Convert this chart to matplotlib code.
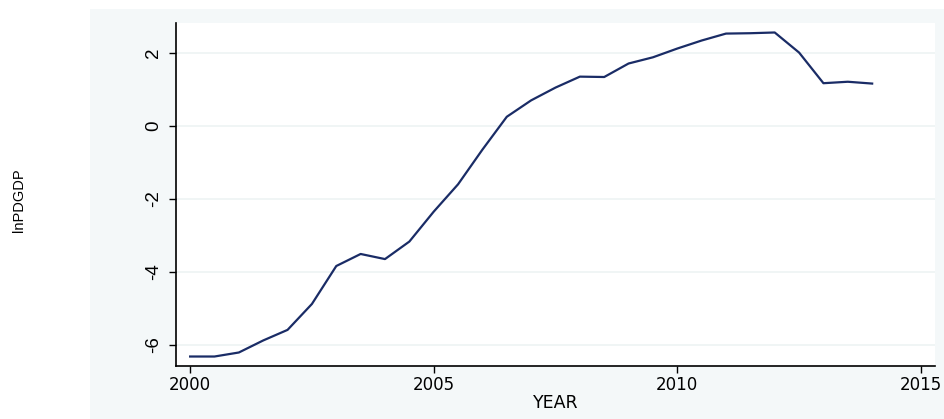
import matplotlib
matplotlib.use('Agg')
import matplotlib.pyplot as plt
from matplotlib.patches import Rectangle

plt.rcParams['font.family'] = ['Liberation Sans', 'DejaVu Sans']

# lnPDGDP by half-year
year = [2000, 2000.5, 2001, 2001.5, 2002, 2002.5, 2003, 2003.5, 2004, 2004.5,
        2005, 2005.5, 2006, 2006.5, 2007, 2007.5, 2008, 2008.5, 2009, 2009.5,
        2010, 2010.5, 2011, 2011.5, 2012, 2012.5, 2013, 2013.5, 2014]
lnpdgdp = [-6.32, -6.32, -6.21, -5.88, -5.59, -4.88, -3.84, -3.51, -3.65, -3.17,
           -2.35, -1.6, -0.65, 0.25, 0.7, 1.05, 1.35, 1.34, 1.71, 1.88,
           2.12, 2.34, 2.53, 2.54, 2.56, 2.01, 1.17, 1.21, 1.16]

xticks = [2000, 2005, 2010, 2015]
yticks = [-6, -4, -2, 0, 2]

fig = plt.figure(figsize=(9.44, 4.19), dpi=100)
fig.patch.set_facecolor('white')
# light outer region (stata graph region)
fig.patches.append(Rectangle((90 / 944, 0), 1 - 90 / 944, 1 - 9 / 419,
                             transform=fig.transFigure, facecolor='#f4f8f9',
                             edgecolor='none', zorder=-5))

ax = fig.add_axes([176 / 944, 53 / 419, 759 / 944, 343 / 419])
ax.set_zorder(2)
ax.set_facecolor('white')
ax.plot(year, lnpdgdp, color='#1a2c66', lw=1.6)

ax.set_xlim(1999.71, 2015.29)
ax.set_ylim(-6.58, 2.82)
ax.set_xticks(xticks)
ax.set_xticklabels([str(t) for t in xticks], family='DejaVu Sans', fontsize=12)
ax.set_yticks(yticks)
ax.set_yticklabels([str(t) for t in yticks], rotation=90, va='center', fontsize=13.5)
ax.tick_params(axis='both', direction='out', length=5, width=1, color='black')
ax.tick_params(axis='x', pad=2)
ax.tick_params(axis='y', pad=5)
for s in ['top', 'right']:
    ax.spines[s].set_visible(False)
for s in ['left', 'bottom']:
    ax.spines[s].set_linewidth(1.2)
ax.grid(axis='y', color='#eef3f4', lw=1.2)
ax.set_axisbelow(True)

ax.set_xlabel('YEAR', family='DejaVu Sans', fontsize=12.5, labelpad=0)
fig.text(19 / 944, 1 - 200 / 419, 'lnPDGDP', rotation=90, ha='center', va='center',
         fontsize=10.5)

fig.savefig('out.png', dpi=100)
